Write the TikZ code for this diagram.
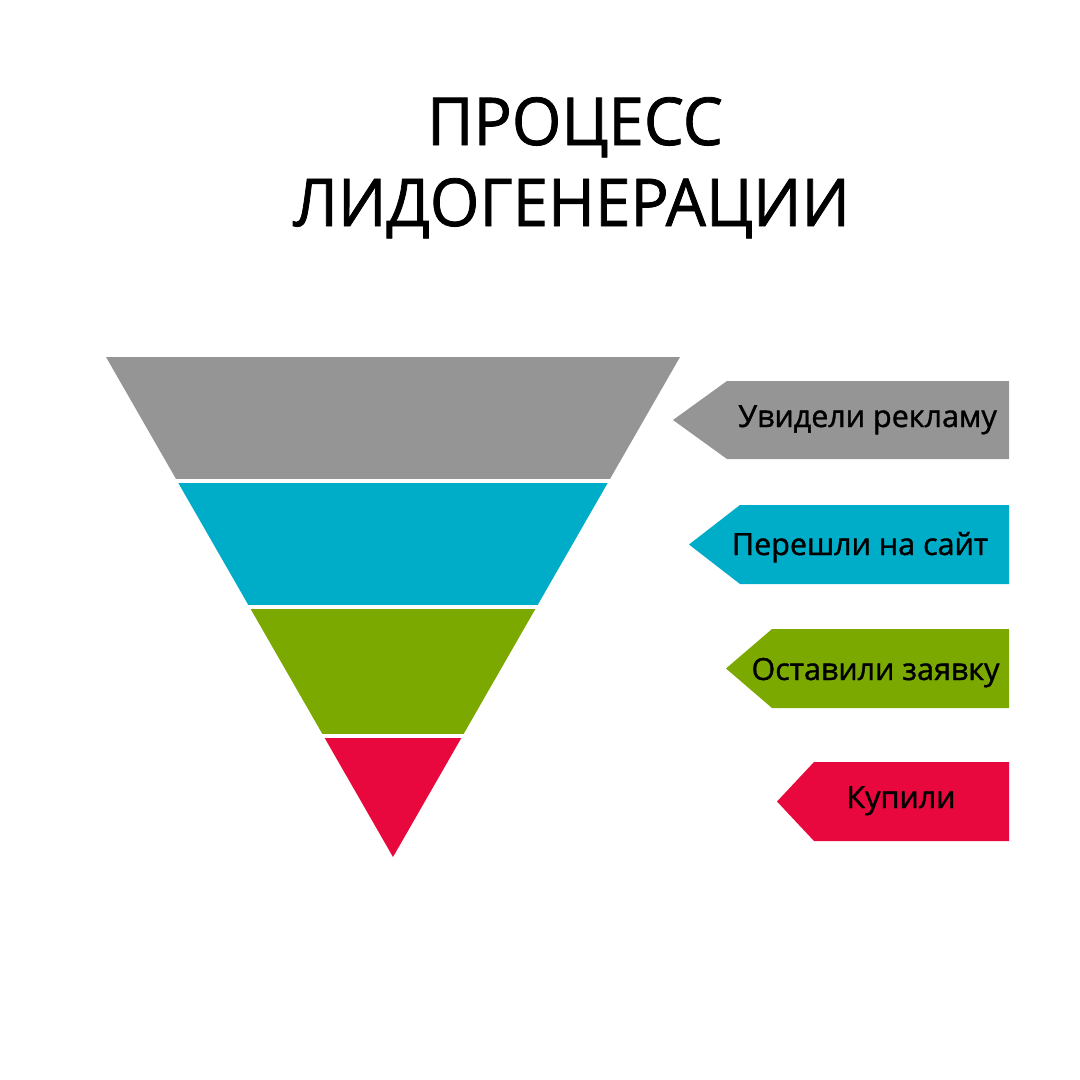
\documentclass[tikz,border=0pt]{standalone}
\usepackage{fontspec}
\setmainfont{Open Sans}
\newfontfamily\heavyfont{Open Sans}[FakeBold=1.2]
\definecolor{stagegray}{HTML}{959595}
\definecolor{stagecyan}{HTML}{00ADC8}
\definecolor{stagegreen}{HTML}{7BA900}
\definecolor{stagered}{HTML}{E9083E}
\tikzset{
  titletext/.style={font=\heavyfont\fontsize{66}{70}\selectfont, anchor=base,
    inner sep=0pt, xscale=0.965, transform shape},
  tagtext/.style={font=\heavyfont\fontsize{30.5}{32}\selectfont, anchor=base, inner sep=0pt}
}
\begin{document}
\begin{tikzpicture}[x=1pt,y=-1pt]
	\useasboundingbox (0,0) rectangle (1080,1080);

	\node[titletext] (title1) at (575,145) {ПРОЦЕСС};
	\node[titletext] (title2) at (571.5,226) {ЛИДОГЕНЕРАЦИИ};

	% funnel
	\begin{scope}
		\clip (106,357) -- (680,357) -- (393,857) -- cycle;
		\foreach \col/\top/\bot in {stagegray/357/478.5,
		stagecyan/482.5/605,
		stagegreen/609/734,
		stagered/738/857}
		\fill[\col] (0,\top) rectangle (1080,\bot);
	\end{scope}

	% tags
	\foreach \col/\tip/\back/\top/\bot in {stagegray/673/727/381/459,
	stagecyan/689/740/505/584,
	stagegreen/726/772/629/708,
	stagered/777/814/762/841}
	\fill[\col] (\tip,{(\top+\bot)/2}) -- (\back,\top) -- (1009,\top)
		-- (1009,\bot) -- (\back,\bot) -- cycle;

	\node[tagtext] (seen)   at (867.5,427) {Увидели рекламу};
	\node[tagtext] (visit)  at (860,555) {Перешли на сайт};
	\node[tagtext] (order)  at (875.5,680) {Оставили заявку};
	\node[tagtext] (bought) at (901,808) {Купили};
\end{tikzpicture}
\end{document}
